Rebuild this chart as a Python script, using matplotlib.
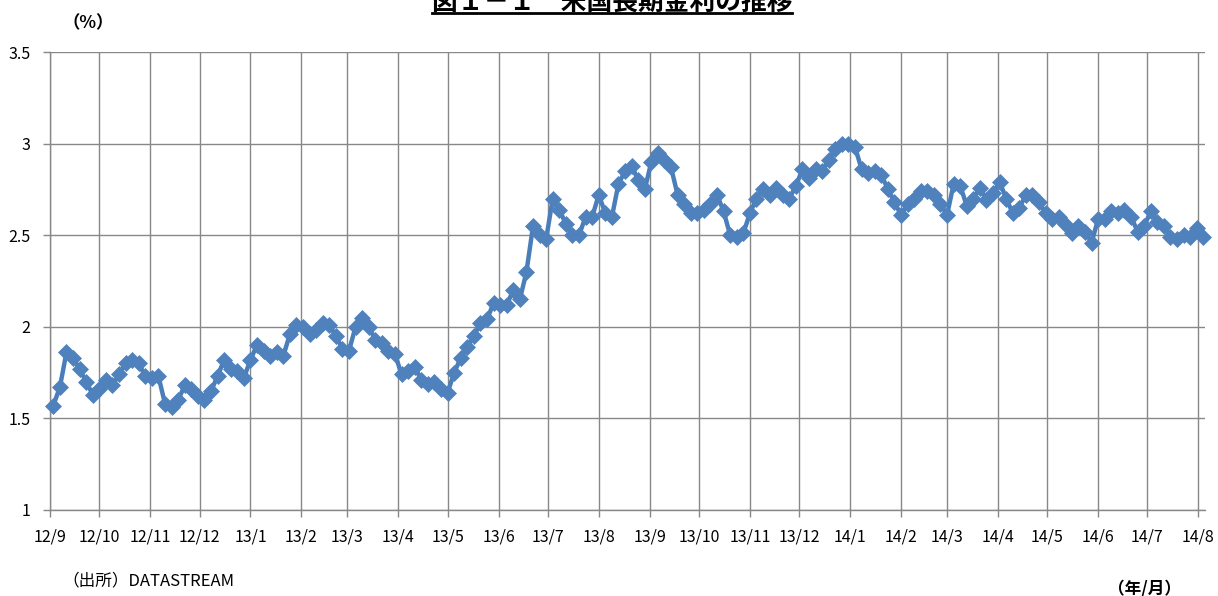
import matplotlib
matplotlib.use('Agg')
import matplotlib.pyplot as plt
import pandas as pd
from matplotlib.lines import Line2D

plt.rcParams['font.family'] = ['Noto Sans CJK JP', 'DejaVu Sans']

# US 10-year Treasury yield (%), sampled every 4 days from 2012-09-03
start_date = '2012-09-03'
sample_step = '4D'
yield_pct = [
    1.57, 1.67, 1.86, 1.83, 1.77, 1.70, 1.63, 1.66, 1.71, 1.68,
    1.74, 1.80, 1.82, 1.80, 1.73, 1.72, 1.73, 1.58, 1.56, 1.60,
    1.68, 1.66, 1.62, 1.60, 1.65, 1.73, 1.82, 1.77, 1.76, 1.72,
    1.82, 1.90, 1.87, 1.84, 1.86, 1.84, 1.96, 2.01, 2.00, 1.96,
    1.98, 2.02, 2.01, 1.95, 1.88, 1.87, 2.00, 2.05, 2.00, 1.93,
    1.91, 1.87, 1.85, 1.74, 1.76, 1.78, 1.71, 1.69, 1.70, 1.66,
    1.64, 1.75, 1.83, 1.89, 1.95, 2.02, 2.04, 2.13, 2.12, 2.12,
    2.20, 2.15, 2.30, 2.55, 2.50, 2.48, 2.70, 2.64, 2.56, 2.50,
    2.50, 2.60, 2.60, 2.72, 2.62, 2.60, 2.78, 2.85, 2.88, 2.80,
    2.75, 2.90, 2.95, 2.91, 2.87, 2.72, 2.67, 2.62, 2.62, 2.64,
    2.67, 2.72, 2.63, 2.50, 2.49, 2.51, 2.62, 2.70, 2.75, 2.72,
    2.76, 2.72, 2.70, 2.77, 2.86, 2.81, 2.86, 2.85, 2.91, 2.97,
    3.00, 3.00, 2.98, 2.86, 2.84, 2.85, 2.83, 2.75, 2.68, 2.61,
    2.67, 2.70, 2.74, 2.74, 2.72, 2.67, 2.61, 2.78, 2.77, 2.66,
    2.70, 2.76, 2.69, 2.73, 2.79, 2.70, 2.62, 2.65, 2.72, 2.72,
    2.68, 2.62, 2.59, 2.60, 2.56, 2.51, 2.55, 2.52, 2.46, 2.59,
    2.59, 2.63, 2.62, 2.64, 2.60, 2.52, 2.55, 2.63, 2.57, 2.55,
    2.49, 2.48, 2.50, 2.49, 2.54, 2.49,
]
dates = pd.date_range(start_date, periods=len(yield_pct), freq=sample_step)

y_ticks = [1, 1.5, 2, 2.5, 3, 3.5]
y_tick_labels = ['1', '1.5', '2', '2.5', '3', '3.5']
month_starts = pd.date_range('2012-09-01', '2014-08-01', freq='MS')
month_labels = [f"{d.year % 100}/{d.month}" for d in month_starts]

title_text = '図１－１　米国長期金利の推移'
unit_text = '（%）'
source_text = '（出所）DATASTREAM'
axis_unit_text = '（年/月）'

W, H = 1218, 596
fig = plt.figure(figsize=(W / 100, H / 100), dpi=100)
fig.patch.set_facecolor('white')
ax = fig.add_axes([50 / W, 1 - 510 / H, (1205 - 50) / W, (510 - 52) / H])

line_color = '#4A7EBB'
marker_color = '#4F81BD'
ax.plot(dates, yield_pct, color=line_color, lw=3.2, marker='D', ms=8.2,
        mfc=marker_color, mec=marker_color, mew=0.5, zorder=3, clip_on=False)

grid_color = '#888888'
ax.set_xlim(pd.Timestamp('2012-09-01'), pd.Timestamp('2014-08-05'))
ax.set_ylim(1, 3.5)
ax.set_yticks(y_ticks)
ax.set_yticklabels(y_tick_labels)
ax.set_xticks(month_starts)
ax.set_xticklabels(month_labels)
ax.grid(True, axis='both', color=grid_color, lw=1)
ax.set_axisbelow(True)
for side in ['top', 'right']:
    ax.spines[side].set_visible(False)
for side in ['left', 'bottom']:
    ax.spines[side].set_color(grid_color)
    ax.spines[side].set_linewidth(1)
ax.tick_params(axis='x', direction='out', length=5, width=1, color=grid_color,
               labelsize=11.5, pad=8)
ax.tick_params(axis='y', direction='out', length=5, width=1, color=grid_color,
               labelsize=11.5, pad=9)

# Title (partly above the canvas) with underline
title = fig.text(612 / W, 1 - 10 / H, title_text, ha='center', va='baseline',
                 fontsize=18.5, fontweight='bold')
fig.canvas.draw()
bb = title.get_window_extent(renderer=fig.canvas.get_renderer())
uy = 1 - 13 / H
fig.add_artist(Line2D([bb.x0 / W, bb.x1 / W], [uy, uy], color='black', lw=2,
                      transform=fig.transFigure))

fig.text(88 / W, 1 - 23 / H, unit_text, ha='center', va='center', fontsize=12.5,
         fontweight='bold')
fig.text(62 / W, 1 - 581 / H, source_text, ha='left', va='center', fontsize=12)
fig.text(1181 / W, 1 - 589 / H, axis_unit_text, ha='right', va='center', fontsize=12,
         fontweight='bold')

fig.savefig('out.png', dpi=100)
